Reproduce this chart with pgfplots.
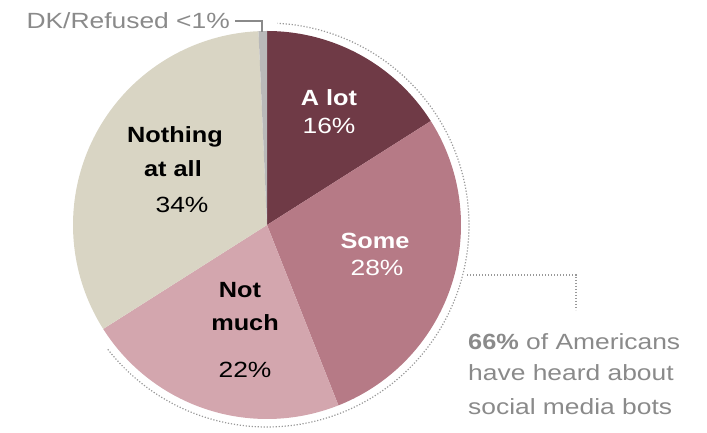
\documentclass[border=0pt]{standalone}
\usepackage{pgfplots}
\pgfplotsset{compat=1.18}
\usepackage{fontspec}
\setmainfont{Liberation Sans}[UprightFeatures={FakeStretch=1.2}, BoldFeatures={FakeStretch=1.15}]
\definecolor{cA}{HTML}{6F3A46}
\definecolor{cB}{HTML}{B67A86}
\definecolor{cC}{HTML}{D3A6AE}
\definecolor{cD}{HTML}{D9D5C4}
\definecolor{cE}{HTML}{B9B9B9}
\definecolor{txtgray}{HTML}{8A8A8A}
\definecolor{dotgray}{HTML}{999999}
\tikzset{lab/.style={font=\fontsize{22bp}{30bp}\selectfont},
         blab/.style={font=\fontsize{22bp}{30bp}\selectfont\bfseries}}
% shares (percent), clockwise from top
\def\vA{16}   % A lot
\def\vB{28}   % Some
\def\vC{22}   % Not much
\def\vD{33.3} % Nothing at all
\def\vE{0.7}  % DK/Refused
\pgfmathsetmacro\aA{90}
\pgfmathsetmacro\aB{\aA-3.6*\vA}
\pgfmathsetmacro\aC{\aB-3.6*\vB}
\pgfmathsetmacro\aD{\aC-3.6*\vC}
\pgfmathsetmacro\aE{\aD-3.6*\vD}
\pgfmathsetmacro\aF{\aE-3.6*\vE}
\begin{document}
\begin{tikzpicture}
\begin{axis}[
  scale only axis, width=707bp, height=433bp,
  xmin=-267, xmax=440, ymin=-208, ymax=225,
  hide axis, clip=false,
]
\path (axis cs:-267,-208) (axis cs:440,225);
\addplot[data cs=polar, domain=\aB:\aA, samples=60, fill=cA, draw=none] {194} -- (axis cs:0,0) -- cycle;
\addplot[data cs=polar, domain=\aC:\aB, samples=80, fill=cB, draw=none] {194} -- (axis cs:0,0) -- cycle;
\addplot[data cs=polar, domain=\aD:\aC, samples=80, fill=cC, draw=none] {194} -- (axis cs:0,0) -- cycle;
\addplot[data cs=polar, domain=\aE:\aD, samples=80, fill=cD, draw=none] {194} -- (axis cs:0,0) -- cycle;
\addplot[data cs=polar, domain=\aF:\aE, samples=5, fill=cE, draw=none] {194} -- (axis cs:0,0) -- cycle;
% dotted arc around the "heard about" share
\addplot[data cs=polar, domain=-142:87, samples=120, dotgray, line width=1.2bp, dash pattern=on 1.2bp off 1.8bp] {202};
% leader to annotation
\addplot[dotgray, line width=1.2bp, dash pattern=on 1.2bp off 1.8bp] coordinates {(200,-50) (309,-50) (309,-85)};
% DK leader
\addplot[txtgray, line width=1.4bp] coordinates {(-32,204) (-5,204) (-5,193)};
% slice labels
\node[anchor=base, text=white, blab] at (axis cs:62,119) {A lot};
\node[anchor=base, text=white, lab] at (axis cs:62,91) {16\%};
\node[anchor=base, text=white, blab] at (axis cs:108,-24) {Some};
\node[anchor=base, text=white, lab] at (axis cs:110,-51) {28\%};
\node[anchor=base, blab] at (axis cs:-27,-73) {Not};
\node[anchor=base, blab] at (axis cs:-22,-106) {much};
\node[anchor=base, lab] at (axis cs:-22,-153) {22\%};
\node[anchor=base, blab] at (axis cs:-92,82) {Nothing};
\node[anchor=base, blab] at (axis cs:-94,48) {at all};
\node[anchor=base, lab] at (axis cs:-85,12) {34\%};
% DK label
\node[anchor=base east, text=txtgray, inner xsep=0pt, lab] at (axis cs:-37,196) {DK/Refused <1\%};
% annotation
\node[anchor=base west, text=txtgray, inner xsep=0pt, lab] at (axis cs:201,-125) {\textbf{66\%} of Americans};
\node[anchor=base west, text=txtgray, inner xsep=0pt, lab] at (axis cs:201,-156) {have heard about};
\node[anchor=base west, text=txtgray, inner xsep=0pt, lab] at (axis cs:201,-189) {social media bots};
\end{axis}
\end{tikzpicture}
\end{document}
